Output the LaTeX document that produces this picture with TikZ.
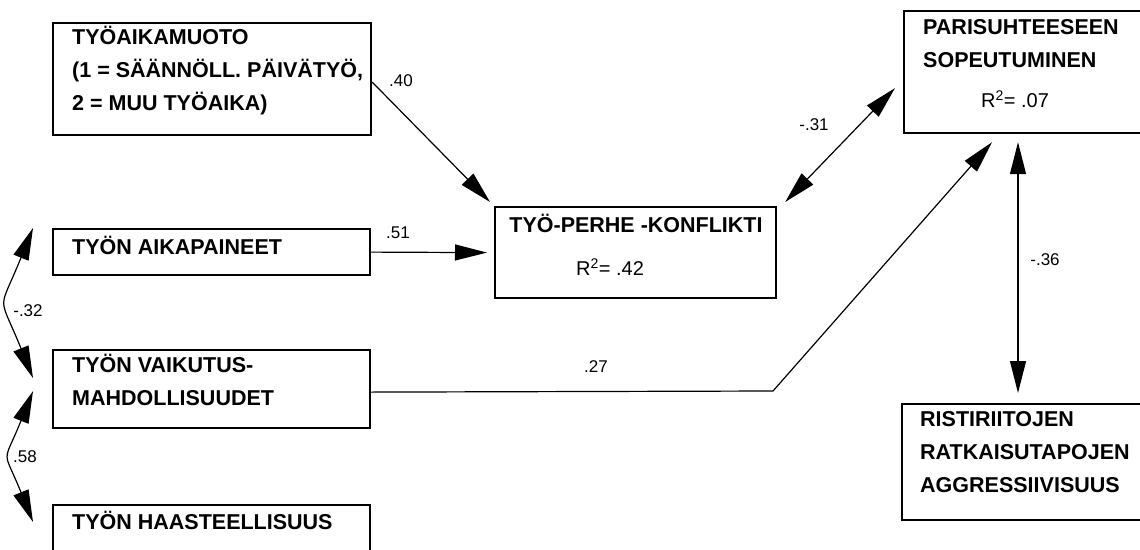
\documentclass[tikz,border=0pt]{standalone}
\usepackage{fontspec}
\setmainfont{Liberation Sans}
\usetikzlibrary{arrows.meta,positioning,calc}

\begin{document}
\begin{tikzpicture}[
  x=1pt, y=-1pt,
  box/.style={draw, line width=2.2pt, anchor=north west, inner sep=0pt},
  lbl/.style={anchor=west, align=left, inner sep=0pt, font=\bfseries\fontsize{21.5}{33}\selectfont},
  rsq/.style={inner sep=0pt, font=\fontsize{20}{22}\selectfont},
  coef/.style={inner sep=0pt, font=\fontsize{17}{19}\selectfont},
  eff/.style={-{Triangle[length=32pt, width=16pt]}, line width=1.2pt},
  cov/.style={{Triangle[length=32pt, width=16pt]}-{Triangle[length=32pt, width=16pt]}, line width=1.2pt}
]
  \useasboundingbox[fill=white] (0,0) rectangle (1140,549);

  % Boxes
  \node[box, minimum width=318pt, minimum height=112pt] (tam) at (52,22) {};
  \node[box, minimum width=317pt, minimum height=46pt] (aika) at (52,228) {};
  \node[box, minimum width=317pt, minimum height=78pt] (vaik) at (52,349) {};
  \node[box, minimum width=317pt, minimum height=52pt] (haas) at (52,504) {};
  \node[box, minimum width=281pt, minimum height=91pt] (tpk) at (494,206) {};
  \node[box, minimum width=245pt, minimum height=122pt] (pari) at (903,10) {};
  \node[box, minimum width=245pt, minimum height=116pt] (rist) at (901,403) {};

  \node[lbl] (tamT) at (72,71) {TYÖAIKAMUOTO\\(1 = SÄÄNNÖLL. PÄIVÄTYÖ,\\2 = MUU TYÖAIKA)};
  \node[lbl] (aikaT) at (72,245) {TYÖN AIKAPAINEET};
  \node[lbl] (vaikT) at (72,380) {TYÖN VAIKUTUS-\\MAHDOLLISUUDET};
  \node[lbl] (haasT) at (72,520) {TYÖN HAASTEELLISUUS};
  \node[lbl, anchor=center] (tpkT) at (636,223) {TYÖ-PERHE -KONFLIKTI};
  \node[rsq] (tpkR) at (610,267) {R\textsuperscript{2}= .42};
  \node[lbl] (pariT) at (923,44) {PARISUHTEESEEN\\SOPEUTUMINEN};
  \node[rsq] (pariR) at (1015,99) {R\textsuperscript{2}= .07};
  \node[lbl] (ristT) at (920,452) {RISTIRIITOJEN\\RATKAISUTAPOJEN\\AGGRESSIIVISUUS};

  % Paths
  \coordinate (k27) at (773,391);
  \draw[eff] ([yshift=-3pt]tam.east) -- ([shift={(-4pt,4pt)}]tpk.north west);
  \draw[eff] (aika.east) -- ([xshift=-7pt]tpk.west);
  \draw[eff] ([yshift=-3pt]vaik.east) -- (k27) -- ([shift={(89pt,-8pt)}]pari.south west);
  \draw[cov] ([shift={(8pt,4pt)}]tpk.north east) -- ([shift={(-8pt,-16pt)}]pari.west);
  \draw[cov] ([shift={(115pt,-8pt)}]pari.south west) -- ([shift={(117pt,10pt)}]rist.north west);
  \draw[cov] ([xshift=-19pt]aika.north west) to[bend right=22, looseness=1.6] ([shift={(-19pt,11pt)}]vaik.west);
  \draw[cov] ([shift={(-19pt,-2pt)}]vaik.west) to[bend right=22, looseness=1.6] ([shift={(-19pt,-18pt)}]haas.north west);

  \node[coef] (l40) at (401,81) {.40};
  \node[coef] (l51) at (398,233) {.51};
  \node[coef] (l27) at (596,367) {.27};
  \node[coef] (l31) at (814,125) {-.31};
  \node[coef] (l36) at (1045,260) {-.36};
  \node[coef] (l32) at (28,311) {-.32};
  \node[coef] (l58) at (25,457) {.58};
\end{tikzpicture}
\end{document}
